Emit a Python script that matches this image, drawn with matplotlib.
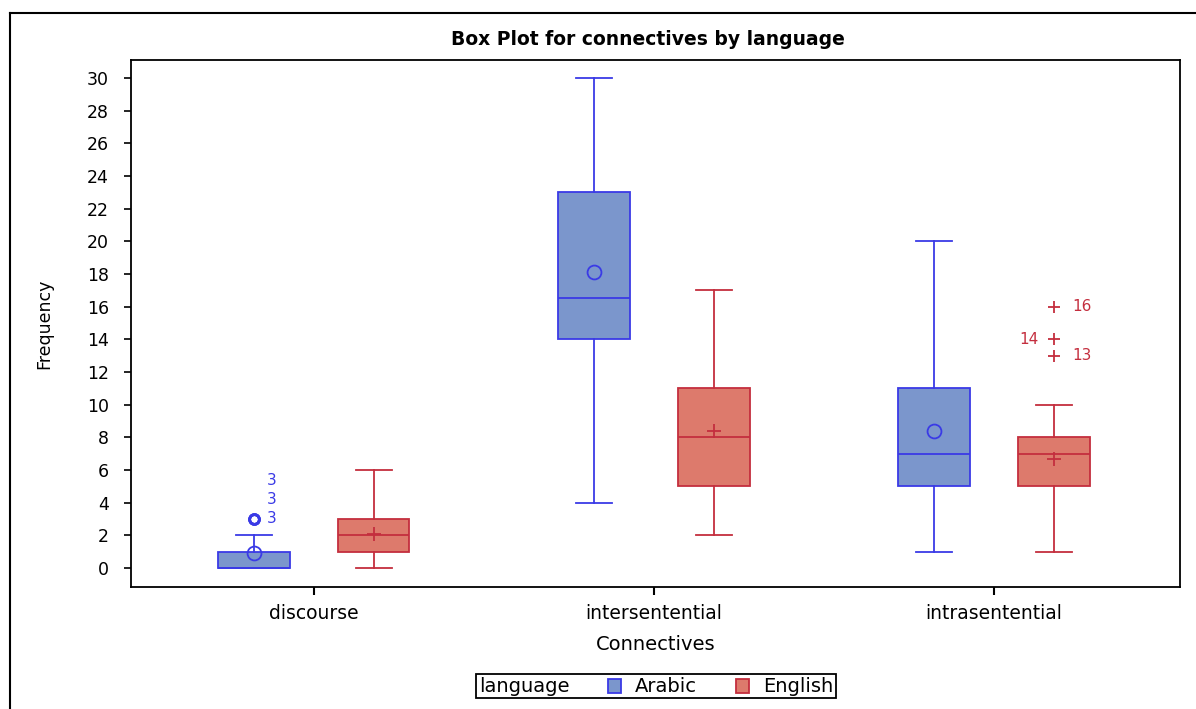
import matplotlib
matplotlib.use('Agg')
import matplotlib.pyplot as plt
from matplotlib.lines import Line2D
from matplotlib.patches import Rectangle
from matplotlib.offsetbox import TextArea, DrawingArea, HPacker, AnchoredOffsetbox

plt.rcParams['font.family'] = ['DejaVu Sans']

# summary statistics per connective type
categories = ['discourse', 'intersentential', 'intrasentential']
languages = ['Arabic', 'English']

arabic_q1 = [0, 14, 5]
arabic_med = [0, 16.5, 7]
arabic_q3 = [1, 23, 11]
arabic_lo = [0, 4, 1]
arabic_hi = [2, 30, 20]
arabic_mean = [0.9, 18.1, 8.4]
arabic_out = [[3, 3, 3], [], []]

english_q1 = [1, 5, 5]
english_med = [2, 8, 7]
english_q3 = [3, 11, 8]
english_lo = [0, 2, 1]
english_hi = [6, 17, 10]
english_mean = [2.1, 8.4, 6.7]
english_out = [[], [], [13, 14, 16]]

yticks = list(range(0, 31, 2))

fill = {'Arabic': '#7b96cc', 'English': '#dd7a6c'}
edge = {'Arabic': '#3a3ae6', 'English': '#c42e3e'}
mark = {'Arabic': 'o', 'English': '+'}

fig = plt.figure(figsize=(11.96, 7.09), dpi=100)
ax = fig.add_axes([131 / 1196, 1 - 587 / 709, 1049 / 1196, 527 / 709])

# outer frame lines
fig.add_artist(Line2D([10 / 1196, 10 / 1196], [0, 1 - 13 / 709], color='black', lw=1.5, transform=fig.transFigure))
fig.add_artist(Line2D([10 / 1196, 1], [1 - 13 / 709, 1 - 13 / 709], color='black', lw=1.5, transform=fig.transFigure))

offset = 0.176
width = 0.21


def stats(q1, med, q3, lo, hi, mean, out):
    res = []
    for i in range(len(categories)):
        res.append(dict(q1=q1[i], med=med[i], q3=q3[i], whislo=lo[i], whishi=hi[i],
                        mean=mean[i], fliers=out[i], label=''))
    return res


groups = {
    'Arabic': stats(arabic_q1, arabic_med, arabic_q3, arabic_lo, arabic_hi, arabic_mean, arabic_out),
    'English': stats(english_q1, english_med, english_q3, english_lo, english_hi, english_mean, english_out),
}

for k, lang in enumerate(languages):
    pos = [i + (-offset if k == 0 else offset) for i in range(len(categories))]
    ec = edge[lang]
    ax.bxp(groups[lang], positions=pos, widths=width, patch_artist=True,
           showmeans=True, manage_ticks=False,
           boxprops=dict(facecolor=fill[lang], edgecolor=ec, lw=1.3),
           medianprops=dict(color=ec, lw=1.3),
           whiskerprops=dict(color=ec, lw=1.3),
           capprops=dict(color=ec, lw=1.3),
           capwidths=width / 2,
           meanprops=dict(marker=mark[lang], markerfacecolor='none', markeredgecolor=ec,
                          markersize=10, markeredgewidth=1.3),
           flierprops=dict(marker=mark[lang], markerfacecolor='none', markeredgecolor=ec,
                           markersize=7 if lang == 'Arabic' else 9, markeredgewidth=2 if lang == 'Arabic' else 1.3))

# outlier labels
for i, vals in enumerate(arabic_out):
    for j, v in enumerate(vals):
        ax.annotate(str(v), (i - offset, v), xytext=(13, 14 * j), textcoords='offset points',
                    ha='center', va='center', color=edge['Arabic'], fontsize=11)
for i, vals in enumerate(english_out):
    for v in vals:
        dx = -18 if v == 14 else 20
        ax.annotate(str(v), (i + offset, v), xytext=(dx, 0), textcoords='offset points',
                    ha='center', va='center', color=edge['English'], fontsize=11)

ax.set_xlim(-0.538, 2.547)
ax.set_ylim(-1.163, 31.1)
ax.set_xticks(range(len(categories)))
ax.set_xticklabels(categories, fontsize=13.5)
ax.set_yticks(yticks)
ax.set_yticklabels([str(t) for t in yticks], fontsize=12.5)
ax.tick_params(axis='y', length=5, width=1.2, pad=11)
ax.tick_params(axis='x', length=6, width=1.5, pad=6)
for s in ax.spines.values():
    s.set_linewidth(1.3)

ax.set_title('Box Plot for connectives by language', fontsize=13.5, fontweight='bold', pad=11, x=0.493)
ax.set_ylabel('Frequency', fontsize=12.5)
ax.yaxis.set_label_coords(-0.0744, 0.5)
ax.set_xlabel('Connectives', fontsize=14)
ax.xaxis.set_label_coords(0.5, -0.092)

# legend with inline title
items = [TextArea('language', textprops=dict(fontsize=14))]
for lang in languages:
    da = DrawingArea(9.5, 9.5, 0, 0)
    da.add_artist(Rectangle((0, 0), 9.5, 9.5, facecolor=fill[lang], edgecolor=edge[lang], lw=1.3))
    items.append(HPacker(children=[da, TextArea(lang, textprops=dict(fontsize=14))], sep=10, align='center'))
box = HPacker(children=items, sep=28, align='center')
anch = AnchoredOffsetbox(loc='center', child=box, pad=0.2, borderpad=0, frameon=True,
                         bbox_to_anchor=(656 / 1196, 1 - 686 / 709), bbox_transform=fig.transFigure)
anch.patch.set_boxstyle('square', pad=0)
anch.patch.set_linewidth(1.3)
anch.patch.set_edgecolor('black')
fig.add_artist(anch)

fig.savefig('out.png', dpi=100)
